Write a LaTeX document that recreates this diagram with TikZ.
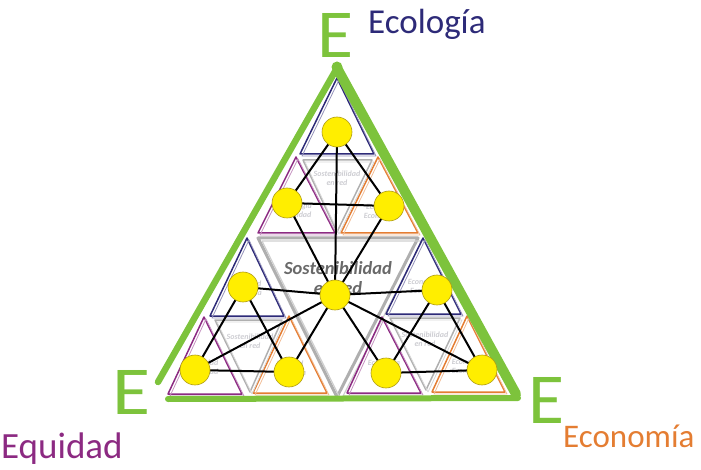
\documentclass[tikz,border=0pt]{standalone}
\usepackage{fontspec}
\setmainfont{Carlito}
\usepackage{graphicx}
\definecolor{egreen}{RGB}{125,195,60}
\definecolor{enavy}{RGB}{45,42,120}
\definecolor{epurple}{RGB}{140,42,130}
\definecolor{eorange}{RGB}{228,125,50}
\definecolor{egray}{RGB}{175,175,175}
\definecolor{etext}{RGB}{105,105,105}
\definecolor{efaint}{RGB}{205,205,210}
\definecolor{eyellow}{RGB}{255,238,0}
\definecolor{eyline}{RGB}{175,155,20}
\pgfdeclarelayer{bg}
\pgfsetlayers{bg,main}
\newcommand\sktri[4]{%
  \draw[#1, line width=1.5pt, line join=round] #2 -- #3 -- #4 -- cycle;
  \draw[#1!50, line width=0.8pt, line join=round, shift={(2,2)}] #2 -- #3 -- #4 -- cycle;}
\begin{document}
\begin{tikzpicture}[x=1pt,y=-1pt,
  dot/.style={circle, minimum size=30pt, inner sep=0pt, fill=eyellow, draw=eyline, line width=0.6pt},
  link/.style={black, line width=2pt},
  faint/.style={text=efaint, font=\fontsize{8}{9}\selectfont\bfseries\itshape, align=center},
  bigE/.style={text=egreen, inner sep=0pt},
  lab/.style={anchor=base west, inner sep=0pt, font=\fontsize{35}{35}\selectfont}]
\useasboundingbox (0,0) rectangle (701,470);

\begin{pgfonlayer}{bg}
% big gray inverted triangle
\draw[egray, line width=3pt, line join=round] (258,238) -- (418,238) -- (337,397) -- cycle;
\draw[egray!60, line width=1.2pt, line join=round, shift={(4,3)}] (258,238) -- (418,238) -- (337,397) -- cycle;

% top sub-triangle
\sktri{enavy}{(337,78)}{(300,154)}{(374,154)}
\sktri{epurple}{(296,157)}{(258,233)}{(335,233)}
\sktri{eorange}{(378,157)}{(341,233)}{(418,233)}
\sktri{egray}{(303,160)}{(372,160)}{(337,232)}
% left sub-triangle
\sktri{enavy}{(247,238)}{(210,316)}{(284,316)}
\sktri{epurple}{(204,317)}{(168,394)}{(242,394)}
\sktri{eorange}{(289,316)}{(253,393)}{(327,393)}
\sktri{egray}{(215,320)}{(282,320)}{(250,392)}
% right sub-triangle
\sktri{enavy}{(423,238)}{(386,314)}{(461,314)}
\sktri{epurple}{(382,317)}{(347,393)}{(421,393)}
\sktri{eorange}{(467,316)}{(432,392)}{(505,392)}
\sktri{egray}{(390,318)}{(460,318)}{(426,390)}

% green outer triangle
\draw[egreen, line width=6.5pt, line cap=round] (158,382) -- (337,68);
\draw[egreen, line width=10pt, line cap=round] (337,68) -- (516,394);
\draw[egreen, line width=6pt, line cap=round] (168,399) -- (518,398);
\fill[egreen] (337,67) circle (5.5);

% faint texts
\node[faint] (ft1) at (337,132) {Ecología\\Ecología};
\node[faint] (ft2) at (298,211) {Ecología\\Equidad};
\node[faint] (ft3) at (380,211) {Ecología\\Economía};
\node[faint] (ft4) at (248,289) {Equidad\\Ecología};
\node[faint] (ft5) at (205,368) {Equidad\\Equidad};
\node[faint] (ft6) at (290,368) {Equidad\\Economía};
\node[faint] (ft7) at (424,287) {Economía\\Ecología};
\node[faint] (ft8) at (384,368) {Economía\\Equidad};
\node[faint] (ft9) at (468,366) {Economía\\Economía};
\node[faint] (fs1) at (337,178) {Sostenibilidad\\en red};
\node[faint] (fs2) at (250,341) {Sostenibilidad\\en red};
\node[faint] (fs3) at (425,339) {Sostenibilidad\\en red};

% central text
\node[text=etext, font=\fontsize{18.5}{20}\selectfont\bfseries\itshape, align=center] (sost) at (338,278) {Sostenibilidad\\en red};
\end{pgfonlayer}

% nodes
\node[dot] (t) at (337,132) {};
\node[dot] (tl) at (287,203) {};
\node[dot] (tr) at (389,206) {};
\node[dot] (c) at (335,295) {};
\node[dot] (ml) at (243,287) {};
\node[dot] (mr) at (437,290) {};
\node[dot] (bl1) at (195,370) {};
\node[dot] (bl2) at (289,372) {};
\node[dot] (br1) at (386,373) {};
\node[dot] (br2) at (482,370) {};

% links
\begin{pgfonlayer}{bg}
\foreach \a/\b in {t/tl,t/tr,tl/tr,t/c,tl/c,tr/c,
                   ml/c,ml/bl1,ml/bl2,bl1/bl2,bl1/c,bl2/c,
                   mr/c,mr/br1,mr/br2,br1/br2,br2/c,br1/c}
  \draw[link] (\a.center) -- (\b.center);
\end{pgfonlayer}

% E letters
\node[bigE] (et) at (335,35) {\resizebox{36pt}{44pt}{E}};
\node[bigE] (el) at (131,392) {\resizebox{38pt}{44pt}{E}};
\node[bigE] (er) at (546,400) {\resizebox{36pt}{46pt}{E}};

% labels
\node[lab, text=enavy] (lecol) at (368,34) {Ecología};
\node[lab, text=epurple, font=\fontsize{37}{37}\selectfont] (lequi) at (1,458) {Equidad};
\node[lab, text=eorange, font=\fontsize{33}{33}\selectfont] (lecon) at (563,447) {Economía};
\end{tikzpicture}
\end{document}
